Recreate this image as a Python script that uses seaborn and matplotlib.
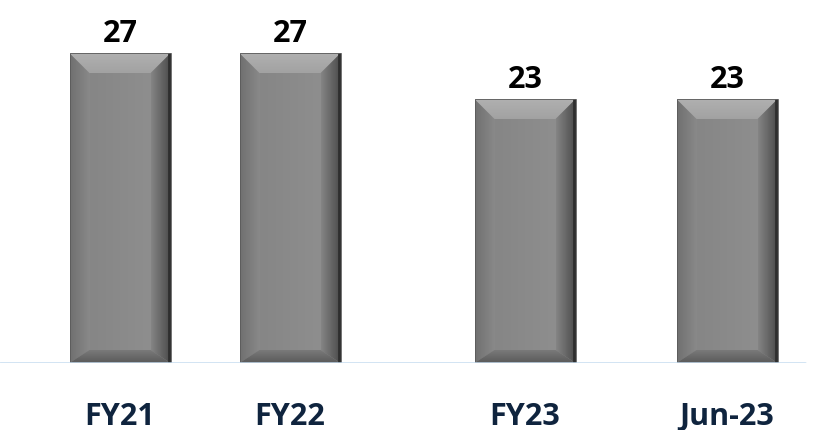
import numpy as np
import pandas as pd
import matplotlib
matplotlib.use("Agg")
import matplotlib.pyplot as plt
from matplotlib.patches import Polygon
import seaborn as sns

# data
periods = ["FY21", "FY22", "FY23", "Jun-23"]
values = [27, 27, 23, 23]

# layout (pixel-like x units, the original spacing is uneven)
x_pos = [120, 290, 525, 727]

sns.set_theme(style="white")
plt.rcParams["font.family"] = ["Open Sans", "DejaVu Sans"]

df = pd.DataFrame({"x": x_pos, "value": values, "period": periods})

fig = plt.figure(figsize=(8.18, 4.31), dpi=100)
ax = fig.add_axes([0, 67 / 431, 1, 364 / 431])

sns.barplot(data=df, x="x", y="value", native_scale=True, width=101 / 170,
            color="#8a8a8a", saturation=1, edgecolor="none", linewidth=0, ax=ax)

ppu = 11.48  # pixels per value unit
ax.set_xlim(0, 818)
ax.set_ylim(0, 364 / ppu)
ax.axis("off")
ax.axhline(0, xmin=0, xmax=805 / 818, color="#c5dcf0", lw=1.8, zorder=6)


def grad_fill(pts, c_from, c_to, horizontal=True):
    # gradient image clipped to a polygon
    poly = Polygon(pts, closed=True, facecolor="none", edgecolor="none")
    ax.add_patch(poly)
    xs = [p[0] for p in pts]
    ys = [p[1] for p in pts]
    a = np.array(matplotlib.colors.to_rgb(c_from))
    b = np.array(matplotlib.colors.to_rgb(c_to))
    t = np.linspace(0, 1, 64)
    row = a[None, :] * (1 - t[:, None]) + b[None, :] * t[:, None]
    img = row[None, :, :] if horizontal else row[::-1, None, :]
    im = ax.imshow(img, extent=(min(xs), max(xs), min(ys), max(ys)),
                   aspect="auto", interpolation="bilinear", zorder=3)
    im.set_clip_path(poly)


for p in list(ax.patches):
    x0, y0 = p.get_x(), p.get_y()
    w, h = p.get_width(), p.get_height()
    x1, y1 = x0 + w, y0 + h
    bx = 20
    by = 20 / ppu
    byb = 13 / ppu
    inner = [(x0 + bx, y1 - by), (x1 - bx, y1 - by), (x1 - bx, y0 + byb), (x0 + bx, y0 + byb)]
    top = [(x0, y1), (x1, y1), inner[1], inner[0]]
    right = [(x1, y1), (x1, y0), inner[2], inner[1]]
    bottom = [(x0, y0), (x1, y0), inner[2], inner[3]]
    left = [(x0, y1), (x0, y0), inner[3], inner[0]]
    grad_fill(inner, "#868686", "#8e8e8e")
    grad_fill(left, "#707070", "#898989")
    grad_fill(right, "#858585", "#4a4a4a")
    grad_fill(bottom, "#5a5a5a", "#7a7a7a", horizontal=False)
    grad_fill(top, "#a2a2a2", "#b0b0b0", horizontal=False)
    ax.plot([x1 - 1.5, x1 - 1.5], [y0, y1], color="#2e2e2e", lw=2, zorder=4,
            solid_capstyle="butt")
    ax.add_patch(plt.Rectangle((x0, y0), w, h, facecolor="none", edgecolor="#5a5a5a",
                               lw=0.6, zorder=4))

for xp, v in zip(x_pos, values):
    ax.text(xp, v + 12 / ppu, f"{v}", ha="center", va="baseline", fontsize=22,
            fontweight="bold", color="black")

for xp, lab in zip(x_pos, periods):
    ax.text(xp, -61 / ppu, lab, ha="center", va="baseline", fontsize=22,
            fontweight="bold", color="#0f243e")

fig.savefig("out.png", dpi=100)
